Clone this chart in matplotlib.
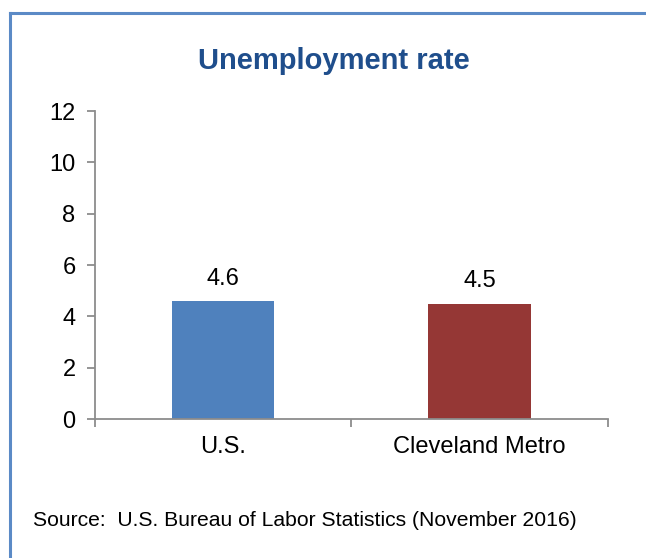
import matplotlib.pyplot as plt
from matplotlib.lines import Line2D

# Unemployment rate, November 2016
categories = ["U.S.", "Cleveland Metro"]
rates = [4.6, 4.5]
bar_colors = ["#4F81BD", "#953735"]

plt.rcParams["font.family"] = ["Liberation Sans", "DejaVu Sans"]

fig = plt.figure(figsize=(6.46, 5.58), dpi=100)
ax = fig.add_axes([0.147, 0.249, 0.794, 0.552])

x = list(range(len(categories)))
bars = ax.bar(x, rates, width=0.4, color=bar_colors, zorder=2)

# value labels above each bar
for rect, val in zip(bars, rates):
    ax.annotate(f"{val:.1f}", (rect.get_x() + rect.get_width() / 2, val),
                xytext=(0, 8), textcoords="offset points",
                ha="center", va="bottom", fontsize=17)

ax.set_xlim(-0.5, len(categories) - 0.5)
ax.set_ylim(0, 12)
ax.set_yticks(range(0, 13, 2))
ax.tick_params(axis="y", labelsize=17, length=6, width=1.3, color="#8C8C8C", pad=8)

# category ticks sit on the boundaries, labels in the middle
ax.set_xticks([-0.5, 0.5, 1.5])
ax.set_xticklabels([])
ax.set_xticks(x, minor=True)
ax.set_xticklabels(categories, minor=True, fontsize=17)
ax.tick_params(axis="x", which="major", length=6, width=1.3, color="#8C8C8C")
ax.tick_params(axis="x", which="minor", length=0, pad=12)

for side in ["top", "right"]:
    ax.spines[side].set_visible(False)
for side in ["left", "bottom"]:
    ax.spines[side].set_color("#8C8C8C")
    ax.spines[side].set_linewidth(1.3)

fig.text(0.517, 0.89, "Unemployment rate", ha="center", va="center",
         fontsize=21, fontweight="bold", color="#1F4E8C")
fig.text(0.051, 0.068, "Source:  U.S. Bureau of Labor Statistics (November 2016)",
         ha="left", va="center", fontsize=15.2)

# chart frame (left and top edges)
fig.add_artist(Line2D([0.0155, 0.0155], [0.0, 0.977], color="#5B8AC6", lw=2.2,
                      transform=fig.transFigure))
fig.add_artist(Line2D([0.0155, 1.0], [0.977, 0.977], color="#5B8AC6", lw=2.2,
                      transform=fig.transFigure))

fig.savefig("out.png", dpi=100)
